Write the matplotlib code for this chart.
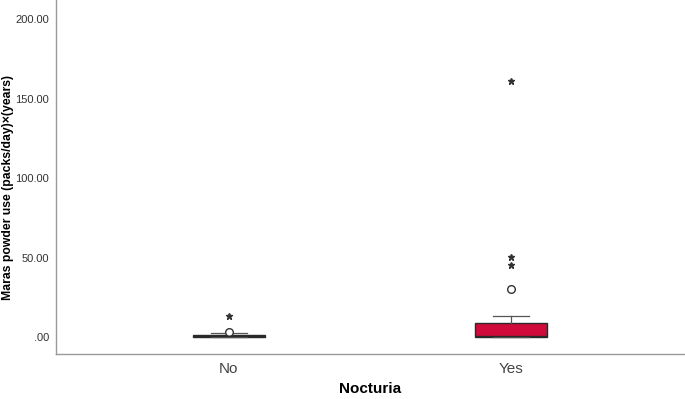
import matplotlib
matplotlib.use("Agg")
import matplotlib.pyplot as plt
from matplotlib.ticker import FuncFormatter

plt.rcParams["font.family"] = ["Liberation Sans", "DejaVu Sans"]

# values
groups = ["No", "Yes"]
q1 = [0.3, 0.3]
median = [0.6, 0.5]
q3 = [1.0, 8.8]
whisker_lo = [0.0, 0.0]
whisker_hi = [2.2, 13.2]
circle_outliers = [[3.0], [30.5]]
star_outliers = [[13.0], [45.5, 50.5, 161.0]]
y_ticks = [0, 50, 100, 150, 200]

fig = plt.figure(figsize=(6.85, 3.99), dpi=100)
ax = fig.add_axes([56 / 685, 1 - 354 / 399, 1 - 56 / 685, 354 / 399])

positions = [1, 2]
stats = []
for i, g in enumerate(groups):
    stats.append(dict(label=g, q1=q1[i], med=median[i], q3=q3[i],
                      whislo=whisker_lo[i], whishi=whisker_hi[i], fliers=[]))

ax.bxp(stats, positions=positions, widths=0.255, patch_artist=True,
       showfliers=False,
       boxprops=dict(facecolor="#D10A3C", edgecolor="#2a2a2a", linewidth=1.0),
       medianprops=dict(color="#2a2a2a", linewidth=1.0),
       whiskerprops=dict(color="#555555", linewidth=0.9),
       capprops=dict(color="#555555", linewidth=0.9),
       capwidths=0.125)

for pos, vals in zip(positions, circle_outliers):
    ax.plot([pos] * len(vals), vals, linestyle="none", marker="o", markersize=5.5,
            markerfacecolor="white", markeredgecolor="#333333", markeredgewidth=1.0)
for pos, vals in zip(positions, star_outliers):
    ax.plot([pos] * len(vals), vals, linestyle="none", marker="*", markersize=4.5,
            color="#333333")

ax.set_xlim(0.387, 2.617)
ax.set_ylim(-10.7, 212)
ax.set_yticks(y_ticks)
ax.yaxis.set_major_formatter(FuncFormatter(lambda v, p: ".00" if v == 0 else f"{v:.2f}"))
ax.tick_params(axis="y", length=0, labelsize=8, labelcolor="#333333", pad=5)
ax.tick_params(axis="x", length=0, labelsize=11, labelcolor="#444444", pad=6)
ax.set_xticks(positions)
ax.set_xticklabels(groups)

for s in ["top", "right"]:
    ax.spines[s].set_visible(False)
for s in ["left", "bottom"]:
    ax.spines[s].set_color("#999999")
    ax.spines[s].set_linewidth(1.0)

fig.text(370 / 685, 1 - 389 / 399, "Nocturia", fontsize=11, fontweight="bold",
         ha="center", va="center")
fig.text(8 / 685, 1 - 188 / 399, "Maras powder use (packs/day)×(years)", fontsize=8.8,
         fontweight="bold", rotation=90, ha="center", va="center")

fig.savefig("out.png", dpi=100)
